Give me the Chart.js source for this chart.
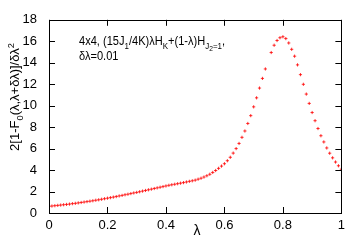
<!DOCTYPE html>
<html>
<head>
<meta charset="utf-8">
<script src="https://cdn.jsdelivr.net/npm/chart.js@4/dist/chart.umd.min.js"></script>
<style>
  html, body { margin: 0; padding: 0; background: #fff; }
  #wrap { width: 350px; height: 245px; }
</style>
</head>
<body>
<div id="wrap"><canvas id="fid"></canvas></div>
<script>
// lambda values, step 0.01
let lambdas = [];
for (let i = 0; i <= 100; i++) lambdas.push(i / 100);

// 2[1-F0]/dl^2 (0.75 is missing in the picture)
let fidelity = [
  0.62, 0.65, 0.68, 0.71, 0.74, 0.77, 0.80, 0.83, 0.87, 0.90,
  0.94, 0.98, 1.02, 1.06, 1.10, 1.14, 1.19, 1.23, 1.28, 1.33,
  1.38, 1.43, 1.48, 1.53, 1.59, 1.64, 1.70, 1.75, 1.81, 1.87,
  1.92, 1.98, 2.04, 2.10, 2.16, 2.22, 2.28, 2.34, 2.40, 2.46,
  2.52, 2.58, 2.63, 2.68, 2.73, 2.78, 2.83, 2.89, 2.95, 3.00,
  3.06, 3.15, 3.24, 3.35, 3.47, 3.61, 3.78, 3.96, 4.16, 4.37,
  4.59, 4.87, 5.19, 5.58, 6.00, 6.48, 7.05, 7.64, 8.34, 9.07,
  9.89, 10.73, 11.64, 12.54, 13.42, null, 14.95, 15.63, 16.07, 16.33,
  16.42, 16.25, 15.84, 15.25, 14.61, 13.80, 12.89, 11.99, 11.08, 10.21,
  9.36, 8.60, 7.87, 7.20, 6.62, 6.06, 5.57, 5.14, 4.75, 4.40,
  4.08
];

let xTicks = [0, 0.2, 0.4, 0.6, 0.8, 1];
let yTicks = [0, 2, 4, 6, 8, 10, 12, 14, 16, 18];

const FONT = '"Liberation Sans", Arial, sans-serif';

// draw a run of [text, kind] pieces, kind: 0 normal, 1 sub, 2 subsub, 3 sup
function drawRich(ctx, parts, x, y, size) {
  parts.forEach(p => {
    let s = size, dy = 0;
    if (p[1] === 1) { s = size * 0.72; dy = size * 0.3; }
    if (p[1] === 2) { s = size * 0.6; dy = size * 0.5; }
    if (p[1] === 3) { s = size * 0.72; dy = -size * 0.42; }
    ctx.font = s + 'px ' + FONT;
    ctx.fillText(p[0], x, y + dy);
    x += ctx.measureText(p[0]).width;
  });
}

function richWidth(ctx, parts, size) {
  let w = 0;
  parts.forEach(p => {
    let s = p[1] === 0 ? size : (p[1] === 2 ? size * 0.6 : size * 0.72);
    ctx.font = s + 'px ' + FONT;
    w += ctx.measureText(p[0]).width;
  });
  return w;
}

const framePlugin = {
  id: 'frame',
  afterDraw(chart) {
    let ctx = chart.ctx, a = chart.chartArea;
    let xs = chart.scales.x, ys = chart.scales.y;
    ctx.save();
    ctx.strokeStyle = '#000';
    ctx.lineWidth = 1;
    ctx.strokeRect(Math.round(a.left) + 0.5, Math.round(a.top) + 0.5,
      Math.round(a.right - a.left), Math.round(a.bottom - a.top));
    ctx.beginPath();
    xTicks.forEach(v => {
      let px = Math.round(xs.getPixelForValue(v)) + 0.5;
      ctx.moveTo(px, a.bottom); ctx.lineTo(px, a.bottom - 6);
      ctx.moveTo(px, a.top); ctx.lineTo(px, a.top + 6);
    });
    yTicks.forEach(v => {
      let py = Math.round(ys.getPixelForValue(v)) + 0.5;
      ctx.moveTo(a.left, py); ctx.lineTo(a.left + 6, py);
      ctx.moveTo(a.right, py); ctx.lineTo(a.right - 6, py);
    });
    ctx.stroke();

    // note inside the plot, a bit narrower like the original font
    ctx.fillStyle = '#000';
    ctx.textBaseline = 'alphabetic';
    ctx.textAlign = 'left';
    ctx.save();
    ctx.translate(79, 0);
    ctx.scale(0.885, 1);
    drawRich(ctx, [['4x4, (15J', 0], ['1', 1], ['/4K)λH', 0], ['K', 1],
      ['+(1-λ)H', 0], ['J', 1], ['2', 2], ['=1', 1], [',', 0]], 0, 45, 12.5);
    drawRich(ctx, [['δλ=0.01', 0]], 0, 60, 12.5);
    ctx.restore();

    // axis titles
    ctx.font = '14px ' + FONT;
    ctx.textAlign = 'center';
    ctx.fillText('λ', 197, 235);
    ctx.translate(19, 97);
    ctx.rotate(-Math.PI / 2);
    ctx.textAlign = 'left';
    let parts = [['2[1-F', 0], ['0', 1], ['(λ,λ+δλ)]/δλ', 0], ['2', 3]];
    let w = richWidth(ctx, parts, 13);
    drawRich(ctx, parts, -w / 2, 0, 13);
    ctx.restore();
  }
};

new Chart(document.getElementById('fid'), {
  type: 'scatter',
  data: {
    datasets: [{
      data: lambdas.map((l, i) => ({ x: l, y: fidelity[i] })),
      pointStyle: 'cross',
      pointRadius: 1.6,
      pointBorderWidth: 1,
      borderColor: 'rgba(255,0,0,0.8)',
      backgroundColor: 'rgba(255,0,0,0.8)',
      showLine: false
    }]
  },
  options: {
    responsive: true,
    maintainAspectRatio: false,
    animation: false,
    layout: { padding: { top: 7, right: 3, left: 0, bottom: 0 } },
    plugins: { legend: { display: false }, tooltip: { enabled: false } },
    scales: {
      x: {
        type: 'linear', min: 0, max: 1,
        afterFit: s => { s.height = 32; },
        afterBuildTicks: s => { s.ticks = xTicks.map(v => ({ value: v })); },
        grid: { display: false, drawTicks: false },
        border: { display: false },
        ticks: { color: '#000', padding: 5, font: { family: FONT, size: 13 },
          callback: v => String(v) }
      },
      y: {
        min: 0, max: 18,
        afterFit: s => { s.width = 49; },
        afterBuildTicks: s => { s.ticks = yTicks.map(v => ({ value: v })); },
        grid: { display: false, drawTicks: false },
        border: { display: false },
        ticks: { color: '#000', padding: 12, font: { family: FONT, size: 13 } }
      }
    }
  },
  plugins: [framePlugin]
});
</script>
</body>
</html>
